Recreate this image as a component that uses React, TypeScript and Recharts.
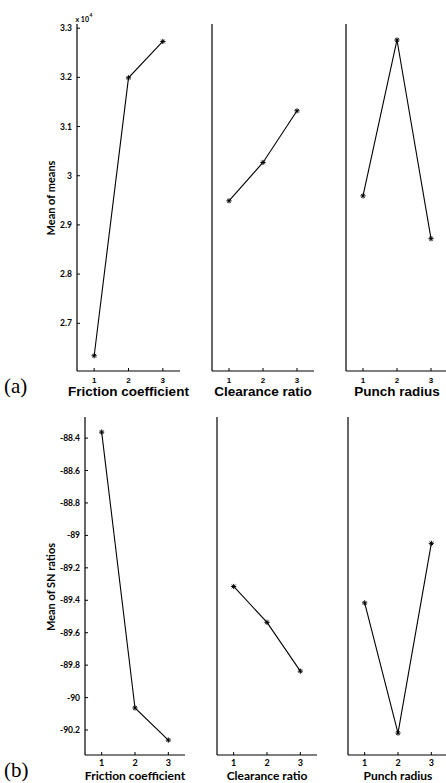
import { LineChart, Line, XAxis, YAxis, Label } from 'recharts'

// factor levels on the x axis
const levels = [1, 2, 3]

// (a) mean of means (raw values, axis shown in units of 10^4)
const meansFriction = [26340, 31990, 32730]
const meansClearance = [29490, 30270, 31320]
const meansPunch = [29590, 32760, 28720]
const meanTicks = [27000, 28000, 29000, 30000, 31000, 32000, 33000]

// (b) mean of SN ratios
const snFriction = [-88.363, -90.064, -90.262]
const snClearance = [-89.315, -89.536, -89.837]
const snPunch = [-89.416, -90.219, -89.049]
const snTicks = [-90.2, -90, -89.8, -89.6, -89.4, -89.2, -89, -88.8, -88.6, -88.4]

const factorNames = ['Friction coefficient', 'Clearance ratio', 'Punch radius']

const CALIBRI = 'Lato, "Open Sans", sans-serif'
const ARIAL = '"Liberation Sans", Arial, sans-serif'

const StarDot = (props: any) => {
  const { cx, cy, index } = props
  if (cx == null || cy == null) return <g key={index} />
  const r = 2.6
  const d = 1.8
  return (
    <path
      key={index}
      d={`M${cx - r},${cy}H${cx + r}M${cx},${cy - r}V${cy + r}M${cx - d},${cy - d}L${cx + d},${cy + d}M${cx - d},${cy + d}L${cx + d},${cy - d}`}
      stroke="#000"
      strokeWidth={1}
      fill="none"
    />
  )
}

interface PanelProps {
  values: number[]
  domain: [number, number]
  ticks: number[]
  x0: number
  x1: number
  y0: number
  y1: number
  yw: number
  showY: boolean
  title: string
  top: boolean
  fmt: (v: number) => string
}

function Panel({ values, domain, ticks, x0, x1, y0, y1, yw, showY, title, top, fmt }: PanelProps) {
  const mTop = 6
  const mRight = 24
  const xh = 30
  const data = levels.map((l, i) => ({ level: l, value: values[i] }))
  const width = yw + (x1 - x0) + mRight
  const height = mTop + (y1 - y0) + xh
  const xTickFont = top
    ? { fontSize: 8, fontFamily: ARIAL, fontWeight: 'bold' }
    : { fontSize: 9, fontFamily: CALIBRI, fontWeight: 'bold' }
  const titleFont = top
    ? { fontSize: 13.5, fontFamily: ARIAL }
    : { fontSize: 12, fontFamily: CALIBRI }
  return (
    <div style={{ position: 'absolute', left: x0 - yw, top: y0 - mTop }}>
      <LineChart width={width} height={height} data={data} margin={{ top: mTop, right: mRight, bottom: 0, left: 0 }}>
        <XAxis
          dataKey="level"
          type="number"
          domain={[0.5, 3.5]}
          ticks={levels}
          height={xh}
          tickSize={-3}
          tickMargin={top ? 9 : 8}
          axisLine={{ stroke: '#000', strokeWidth: 1.2 }}
          tickLine={{ stroke: '#000' }}
          tick={{ fill: '#000', ...xTickFont }}
        >
          <Label value={title} position="insideBottom" offset={5} fill="#000" fontWeight="bold" {...titleFont} />
        </XAxis>
        <YAxis
          type="number"
          domain={domain}
          ticks={ticks}
          allowDataOverflow
          width={yw}
          tickSize={-3}
          tickMargin={8}
          tickFormatter={fmt}
          axisLine={{ stroke: '#000', strokeWidth: 1.2 }}
          tickLine={{ stroke: '#000' }}
          tick={showY ? { fill: '#000', fontSize: 8.5, fontFamily: CALIBRI, fontWeight: 'bold' } : false}
        />
        <Line
          type="linear"
          dataKey="value"
          stroke="#000"
          strokeWidth={1.1}
          dot={StarDot}
          activeDot={false}
          isAnimationActive={false}
        />
      </LineChart>
    </div>
  )
}

const fmtMean = (v: number) => String(Number((v / 10000).toFixed(1)))
const fmtSn = (v: number) => String(Number(v.toFixed(1)))

export default function App() {
  const meanDomain: [number, number] = [26030, 33085]
  const snDomain: [number, number] = [-90.354, -88.27]
  const topCols = [
    [77, 180],
    [212, 314],
    [346, 448],
  ]
  const botCols = [
    [85, 185],
    [217, 317],
    [348, 448],
  ]
  const meanSeries = [meansFriction, meansClearance, meansPunch]
  const snSeries = [snFriction, snClearance, snPunch]

  return (
    <div style={{ position: 'absolute', left: 0, top: 0, width: 446, height: 783, overflow: 'hidden', background: '#fff' }}>
      {meanSeries.map((vals, i) => (
        <Panel
          key={`m${i}`}
          values={vals}
          domain={meanDomain}
          ticks={meanTicks}
          x0={topCols[i][0]}
          x1={topCols[i][1]}
          y0={24}
          y1={371}
          yw={i === 0 ? 77 : 30}
          showY={i === 0}
          title={factorNames[i]}
          top
          fmt={fmtMean}
        />
      ))}
      {snSeries.map((vals, i) => (
        <Panel
          key={`s${i}`}
          values={vals}
          domain={snDomain}
          ticks={snTicks}
          x0={botCols[i][0]}
          x1={botCols[i][1]}
          y0={417}
          y1={755}
          yw={i === 0 ? 85 : 30}
          showY={i === 0}
          title={factorNames[i]}
          top={false}
          fmt={fmtSn}
        />
      ))}
      <svg width={446} height={783} style={{ position: 'absolute', left: 0, top: 0, pointerEvents: 'none' }}>
        <text x={75.5} y={22} fontSize={7} fontWeight="bold" fontFamily={CALIBRI} fill="#000">
          x 10
        </text>
        <text x={89.5} y={16.5} fontSize={5} fontWeight="bold" fontFamily={CALIBRI} fill="#000">
          4
        </text>
        <text
          x={55}
          y={198}
          transform="rotate(-90, 55, 198)"
          textAnchor="middle"
          fontSize={11}
          fontWeight="bold"
          fontFamily={CALIBRI}
          fill="#000"
        >
          Mean of means
        </text>
        <text
          x={55}
          y={587}
          transform="rotate(-90, 55, 587)"
          textAnchor="middle"
          fontSize={11}
          fontWeight="bold"
          fontFamily={CALIBRI}
          fill="#000"
        >
          Mean of SN ratios
        </text>
        <text x={4} y={393} fontSize={21} fontFamily='"Liberation Serif", serif' fill="#000">
          (a)
        </text>
        <text x={4} y={777} fontSize={21} fontFamily='"Liberation Serif", serif' fill="#000">
          (b)
        </text>
      </svg>
    </div>
  )
}
